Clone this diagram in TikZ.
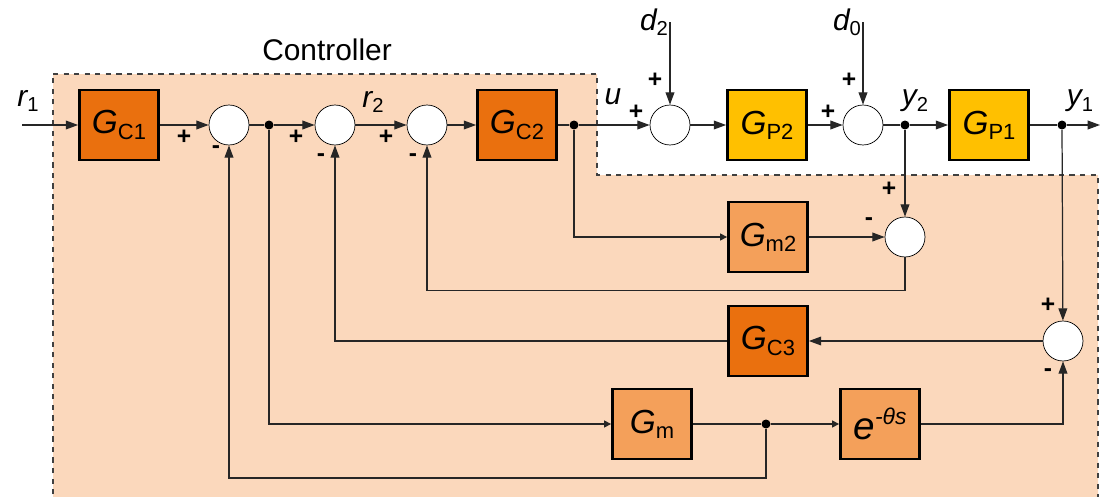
\documentclass[tikz,border=0pt]{standalone}
\usepackage{fontspec}
\setmainfont{Liberation Sans}
\usepackage{tikz}
\usetikzlibrary{positioning,arrows.meta}
\usepackage{xcolor}

\definecolor{ctrlfill}{RGB}{234,112,14}
\definecolor{plantfill}{RGB}{255,192,0}
\definecolor{modelfill}{RGB}{244,160,90}
\definecolor{regionfill}{RGB}{251,216,188}

% block text: italic letter with an upright subscript
\newcommand{\blk}[2]{{\fontsize{19}{19}\selectfont\itshape #1}\raisebox{-3pt}{\fontsize{12.5}{12.5}\selectfont #2}}
\newcommand{\sig}[2]{{\fontsize{17}{17}\selectfont\itshape #1}\raisebox{-3pt}{\fontsize{11.5}{11.5}\selectfont #2}}

\begin{document}
\begin{tikzpicture}[x=0.02cm,y=-0.02cm,
          every node/.style={font=\normalsize},
          ctrl/.style={draw=black,line width=1.6pt,fill=ctrlfill,minimum width=1.58cm,minimum height=1.4cm,inner sep=0pt},
          plant/.style={ctrl,fill=plantfill},
          model/.style={ctrl,fill=modelfill},
          sumpt/.style={circle,draw=black,thin,fill=white,inner sep=0pt,minimum size=0.8cm},
          junc/.style={circle,fill=black,inner sep=0pt,minimum size=0.18cm},
          sign/.style={font=\fontsize{14}{14}\selectfont\bfseries,inner sep=0pt},
          wire/.style={line width=0.7pt,draw=black!85},
          arr/.style={wire,-{Triangle[length=7pt,width=5pt]}},
          sarr/.style={wire,-{Triangle[length=4pt,width=4pt]}},
        ]
        \useasboundingbox (0,0) rectangle (1100,497);
        \clip (0,0) rectangle (1100,497);

        % controller region
        \draw[fill=regionfill,draw=black!75,dashed,line width=0.6pt]
          (53,74) -- (597,74) -- (597,175) -- (1098,175) -- (1098,520) -- (53,520) -- cycle;
        \node[font=\fontsize{17}{17}\selectfont] (ctl) at (327,50) {Controller};

        % forward path
        \coordinate (in) at (22,125);
        \coordinate (out) at (1100,125);
        \node[ctrl] (gc1) at (119,125) {\blk{G}{C1}};
        \node[sumpt] (s1) at (229,125) {};
        \node[junc] (j1) at (269,125) {};
        \node[sumpt] (s2) at (335,125) {};
        \node[sumpt] (s3) at (427,125) {};
        \node[ctrl] (gc2) at (517,125) {\blk{G}{C2}};
        \node[junc] (j2) at (574,125) {};
        \node[sumpt] (s4) at (670,125) {};
        \node[plant] (gp2) at (767,125) {\blk{G}{P2}};
        \node[sumpt] (s5) at (863,125) {};
        \node[junc] (j3) at (905,125) {};
        \node[plant] (gp1) at (989,125) {\blk{G}{P1}};
        \node[junc] (j4) at (1062,125) {};
        \coordinate (d2in) at (670,22);
        \coordinate (d0in) at (863,22);

        % inner loops
        \node[model] (gm2) at (768,237) {\blk{G}{m2}};
        \node[sumpt] (s6) at (905,237) {};
        \node[ctrl] (gc3) at (768,341) {\blk{G}{C3}};
        \node[sumpt] (s7) at (1063,341) {};
        \node[model] (gm) at (652,424) {\blk{G}{m}};
        \node[junc] (j5) at (766,424) {};
        \node[model] (dly) at (880,424) {{\fontsize{22}{22}\selectfont\itshape e}\raisebox{9pt}{\fontsize{13}{13}\selectfont\itshape -θs}};

        % signal labels
        \node (r1) at (28,101) {\sig{r}{1}};
        \node (r2) at (373,102) {\sig{r}{2}};
        \node (u) at (613,99) {\sig{u}{}};
        \node (d2) at (654,22) {\sig{d}{2}};
        \node (d0) at (847,22) {\sig{d}{0}};
        \node (y2) at (915,101) {\sig{y}{2}};
        \node (y1) at (1080,101) {\sig{y}{1}};

        % signs
        \node[sign] at (184,137) {+};
        \node[sign] at (216,150) {-};
        \node[sign] at (296,137) {+};
        \node[sign] at (321,158) {-};
        \node[sign] at (386,137) {+};
        \node[sign] at (413,158) {-};
        \node[sign] at (636,112) {+};
        \node[sign] at (655,80) {+};
        \node[sign] at (828,112) {+};
        \node[sign] at (849,80) {+};
        \node[sign] at (889,189) {+};
        \node[sign] at (869,222) {-};
        \node[sign] at (1048,305) {+};
        \node[sign] at (1048,373) {-};

        % connectors
        \draw[arr] (in) -- (gc1);
        \draw[arr] (gc1) -- (s1);
        \draw[wire] (s1) -- (j1);
        \draw[arr] (j1) -- (s2);
        \draw[arr] (s2) -- (s3);
        \draw[arr] (s3) -- (gc2);
        \draw[wire] (gc2) -- (j2);
        \draw[arr] (j2) -- (s4);
        \draw[arr] (d2in) -- (s4);
        \draw[arr] (s4) -- (gp2);
        \draw[arr] (gp2) -- (s5);
        \draw[arr] (d0in) -- (s5);
        \draw[wire] (s5) -- (j3);
        \draw[arr] (j3) -- (gp1);
        \draw[wire] (gp1) -- (j4);
        \draw[arr] (j4) -- (out);
        \draw[sarr] (j2) |- (gm2);
        \draw[arr] (gm2) -- (s6);
        \draw[arr] (j3) -- (s6);
        \draw[arr] (s6.south) -- ++(0,33) -| (s3.south);
        \draw[arr] (j4) -- (s7);
        \draw[arr] (s7) -- (gc3);
        \draw[arr] (gc3) -| (s2.south);
        \draw[sarr] (j1) |- (gm);
        \draw[wire] (gm) -- (j5);
        \draw[sarr] (j5) -- (dly);
        \draw[arr] (dly) -| (s7.south);
        \draw[arr] (j5) -- ++(0,54) -| (s1.south);
      \end{tikzpicture}
\end{document}
